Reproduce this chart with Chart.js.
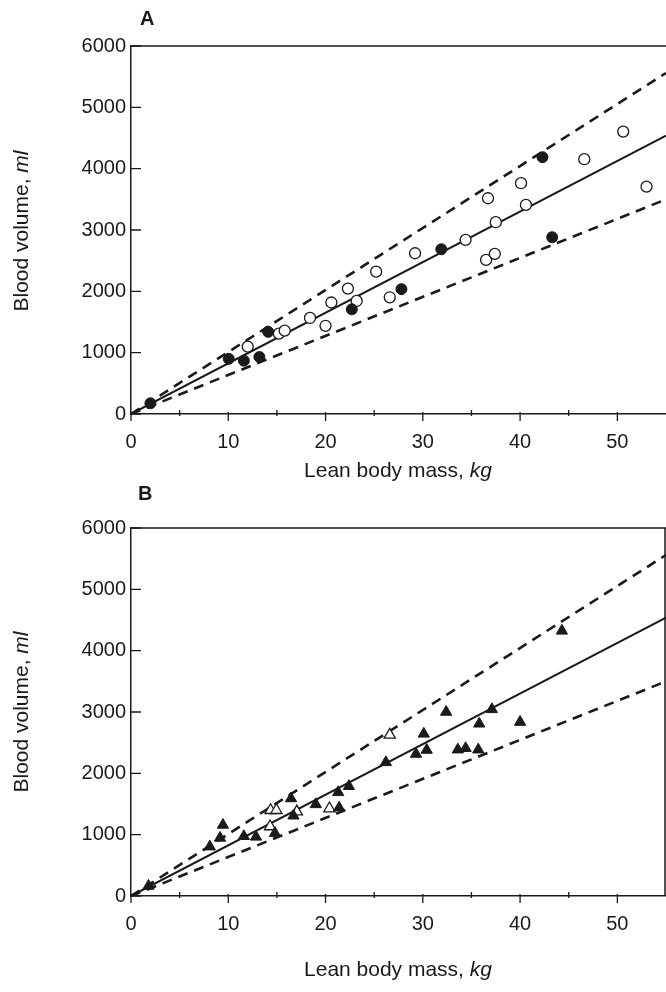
<!DOCTYPE html>
<html>
<head>
<meta charset="utf-8">
<script src="https://cdn.jsdelivr.net/npm/chart.js@4/dist/chart.umd.min.js"></script>
<style>
  html, body { margin: 0; padding: 0; background: #fff; }
  body { width: 666px; height: 992px; position: relative; overflow: hidden; font-family: "Liberation Sans", Arial, sans-serif; color: #1a1a1a; }
  .cv { position: absolute; left: 0; }
  .panel { position: absolute; font-weight: bold; font-size: 20px; line-height: 1; }
  .ytitle { position: absolute; white-space: nowrap; font-size: 21px; line-height: 1; transform: translate(-50%, -50%) rotate(-90deg); }
  .xtitle { position: absolute; white-space: nowrap; font-size: 21px; line-height: 1; transform: translate(-50%, -50%); }
</style>
</head>
<body>
<canvas id="cA" class="cv" style="top:0px" width="666" height="480"></canvas>
<canvas id="cB" class="cv" style="top:480px" width="666" height="512"></canvas>

<div class="panel" style="left:140px; top:8px;">A</div>
<div class="panel" style="left:138px; top:483px;">B</div>
<div class="ytitle" style="left:20px; top:231px;">Blood volume, <i>ml</i></div>
<div class="ytitle" style="left:20px; top:712px;">Blood volume, <i>ml</i></div>
<div class="xtitle" style="left:398px; top:469px;">Lean body mass, <i>kg</i></div>
<div class="xtitle" style="left:398px; top:968px;">Lean body mass, <i>kg</i></div>

<script>
// ---- tick labels ----
const xTicks = [0, 10, 20, 30, 40, 50];
const xMinorTicks = [5, 15, 25, 35, 45];
const yTicks = [0, 1000, 2000, 3000, 4000, 5000, 6000];

// ---- regression / limit lines (endpoints) ----
const lineX = [0, 55];
const fitY = [0, 4540];
const upperY = [0, 5560];
const lowerY = [0, 3500];

// ---- Panel A: circles ----
const aFilledX = [2.0, 10.05, 11.6, 13.2, 14.1, 22.7, 27.8, 31.9, 42.3, 43.3];
const aFilledY = [175, 900, 870, 930, 1340, 1707, 2036, 2686, 4187, 2882];
const aOpenX = [12.0, 15.2, 15.8, 18.4, 20.0, 20.6, 22.3, 23.2, 25.2, 26.6, 29.2, 34.4, 36.5, 37.4, 36.7, 37.5, 40.1, 40.6, 46.6, 50.6, 53.0];
const aOpenY = [1098, 1310, 1359, 1566, 1438, 1818, 2045, 1843, 2321, 1903, 2621, 2838, 2512, 2610, 3518, 3127, 3763, 3409, 4154, 4604, 3707];

// ---- Panel B: triangles ----
const bFilledX = [1.8, 8.1, 9.15, 9.45, 11.6, 12.85, 14.8, 16.45, 16.7, 19.0, 21.4, 21.3, 22.4, 26.2, 29.3, 30.4, 30.1, 32.4, 33.6, 34.4, 35.7, 35.8, 37.1, 40.0, 44.3];
const bFilledY = [164, 805, 947, 1158, 974, 964, 1025, 1590, 1308, 1494, 1440, 1690, 1790, 2179, 2315, 2380, 2644, 3000, 2386, 2409, 2386, 2808, 3043, 2836, 4323];
const bOpenX = [14.3, 14.35, 14.95, 17.05, 20.4, 26.6];
const bOpenY = [1133, 1398, 1398, 1376, 1426, 2627];

const INK = '#1a1a1a';
const FONT = '"Liberation Sans", Arial, sans-serif';

function pts(xs, ys) { return xs.map((x, i) => ({ x: x, y: ys[i] })); }

function framePlugin(rightBorder) {
  return {
    id: 'frame',
    afterDraw(chart) {
      const ctx = chart.ctx;
      const a = chart.chartArea;
      const xs = chart.scales.x, ys = chart.scales.y;
      ctx.save();
      ctx.strokeStyle = INK;
      ctx.lineWidth = 1.5;
      ctx.beginPath();
      ctx.moveTo(a.left, a.top); ctx.lineTo(a.right, a.top);
      if (rightBorder) {
        ctx.moveTo(a.right - 1, a.top); ctx.lineTo(a.right - 1, a.bottom);
      }
      ctx.stroke();
      ctx.lineWidth = 1.3;
      ctx.beginPath();
      yTicks.forEach(v => {
        const p = ys.getPixelForValue(v);
        ctx.moveTo(a.left, p); ctx.lineTo(a.left + 10, p);
      });
      xTicks.forEach(v => {
        const p = xs.getPixelForValue(v);
        ctx.moveTo(p, a.bottom - 2); ctx.lineTo(p, a.bottom + 7);
      });
      xMinorTicks.forEach(v => {
        const p = xs.getPixelForValue(v);
        ctx.moveTo(p, a.bottom - 4); ctx.lineTo(p, a.bottom + 2);
      });
      ctx.stroke();
      ctx.restore();
    }
  };
}

function makeChart(id, topPad, axisH, filled, open, style, radius, rightBorder) {
  const lineDs = (ys, dash, w) => ({
    data: pts(lineX, ys), showLine: true, pointRadius: 0, borderColor: INK,
    borderWidth: w, borderDash: dash, fill: false, tension: 0
  });
  return new Chart(document.getElementById(id), {
    type: 'scatter',
    data: {
      datasets: [
        { data: filled, pointStyle: style, pointRadius: radius, pointBackgroundColor: INK, pointBorderColor: INK, pointBorderWidth: 1 },
        { data: open, pointStyle: style, pointRadius: radius, pointBackgroundColor: '#fff', pointBorderColor: INK, pointBorderWidth: 1.3 },
        lineDs(fitY, [], 2),
        lineDs(upperY, [10, 7], 2.6),
        lineDs(lowerY, [10, 7], 2.6)
      ]
    },
    options: {
      responsive: false,
      animation: false,
      devicePixelRatio: 1,
      layout: { autoPadding: false, padding: { top: topPad, right: 0, bottom: 0, left: 0 } },
      plugins: { legend: { display: false }, tooltip: { enabled: false } },
      scales: {
        x: {
          type: 'linear', min: 0, max: 55,
          afterBuildTicks: s => { s.ticks = xTicks.map(v => ({ value: v })); },
          afterFit: s => { s.height = axisH; s.paddingLeft = 0; s.paddingRight = 0; },
          grid: { display: false, drawTicks: false },
          border: { display: true, color: INK, width: 1.5 },
          ticks: { padding: 16, color: INK, font: { family: FONT, size: 20 }, callback: v => String(v) }
        },
        y: {
          type: 'linear', min: 0, max: 6000,
          afterBuildTicks: s => { s.ticks = yTicks.map(v => ({ value: v })); },
          afterFit: s => { s.width = 131; s.paddingTop = 0; s.paddingBottom = 0; },
          grid: { display: false, drawTicks: false },
          border: { display: true, color: INK, width: 1.5 },
          ticks: { padding: 5, color: INK, font: { family: FONT, size: 20 }, callback: v => String(v) }
        }
      }
    },
    plugins: [framePlugin(rightBorder)]
  });
}

makeChart('cA', 46, 66, pts(aFilledX, aFilledY), pts(aOpenX, aOpenY), 'circle', 5.5, false);
makeChart('cB', 48, 96, pts(bFilledX, bFilledY), pts(bOpenX, bOpenY), 'triangle', 6.5, true);
</script>
</body>
</html>
